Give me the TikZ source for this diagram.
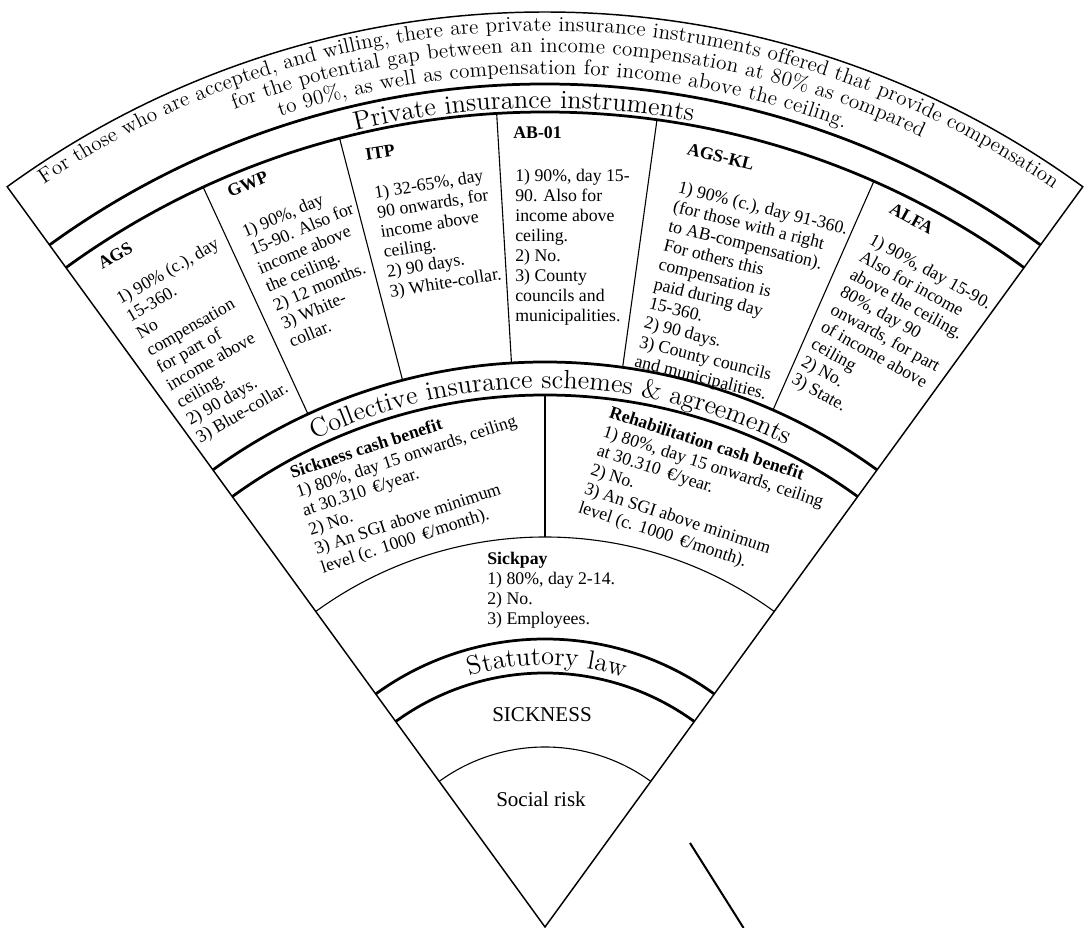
\documentclass[tikz,border=0pt]{standalone}
\usepackage{fontspec}
\setmainfont{Liberation Serif}
\usepackage{tikz}
\usetikzlibrary{decorations.text}

\newcommand{\bodysize}{\fontsize{9.7}{10.9}\selectfont}
\newcommand{\bandsize}[1]{\fontfamily{lmr}\fontsize{#1}{16}\selectfont}
\newcommand{\topsize}{\fontfamily{lmr}\fontsize{11.6}{13}\selectfont}
\newcommand{\risksize}{\fontsize{11.5}{13}\selectfont}

\begin{document}
\begin{tikzpicture}[x=0.0192cm, y=0.0192cm,
	edge/.style={line width=0.8pt},
	thinarc/.style={line width=0.6pt},
	thickarc/.style={line width=1.5pt},
	info/.style={inner sep=0pt, align=left, font=\bodysize, anchor=north west},
	instr/.style={inner sep=0pt, font=\bodysize\bfseries, anchor=base west},
	bandtext/.style={decorate, decoration={text along path, text align=fit to path, text={#1}}},
	bandtitle/.style={decorate, decoration={text along path, text align=center, text={#1}}}]
		\useasboundingbox (-545,-1) rectangle (542,927);
		
		% fan and arcs
		\draw[edge] (0,0) -- (126:915) arc[start angle=126, end angle=54, radius=915] -- cycle;
		\draw[thinarc] (126:180) arc[start angle=126, end angle=54, radius=180];
		\draw[thickarc] (126:254) arc[start angle=126, end angle=54, radius=254];
		\draw[thickarc] (126:288) arc[start angle=126, end angle=54, radius=288];
		\draw[thinarc] (126:390) arc[start angle=126, end angle=54, radius=390];
		\draw[thickarc] (126:532) arc[start angle=126, end angle=54, radius=532];
		\draw[thickarc] (126:565) arc[start angle=126, end angle=54, radius=565];
		\draw[thickarc] (126:815) arc[start angle=126, end angle=54, radius=815];
		\draw[thickarc] (126:843) arc[start angle=126, end angle=54, radius=843];
		
		% dividers
		\draw[thinarc] (90:390) -- (90:532);
		\foreach \a in {114.8, 104.6, 93.4, 82.1, 66.2}
			\draw[thinarc] (\a:565) -- (\a:815);
		
		\draw[line width=1.1pt] (145,84) -- (198.6,-1);
		
		% curved texts
		\path[bandtext={|\topsize|For those who are accepted, and willing, there are private insurance instruments offered that provide compensation}]
			(124:896) arc[start angle=124, end angle=55.6, radius=896];
		\path[bandtext={|\topsize|for the potential gap between an income compensation at 80{\%} as compared}]
			(110.8:875) arc[start angle=110.8, end angle=64.6, radius=875];
		\path[bandtext={|\topsize|to 90{\%}, as well as compensation for income above the ceiling.}]
			(108.1:853) arc[start angle=108.1, end angle=69.5, radius=853];
		\path[bandtitle={|\bandsize{14.4}|Private insurance instruments}]
			(111.5:819) arc[start angle=111.5, end angle=71.5, radius=819];
		\path[bandtitle={|\bandsize{14.4}|Collective insurance schemes {\&} agreements}]
			(119.35:539) arc[start angle=119.35, end angle=59.35, radius=539];
		\path[bandtitle={|\bandsize{14.5}|Statutory law}]
			(114.5:262) arc[start angle=114.5, end angle=64.5, radius=262];
		
		% private instruments
		\node[instr, rotate=30] (ags) at (-443,657) {AGS};
		\node[info, rotate=30] (agsinfo) at (-431,633)
		{1) 90\% (c.), day\\15-360.\\No\\compensation\\for part of\\income above\\ceiling.\\2) 90 days.\\3) Blue-collar.};
		
		\node[instr, rotate=23] (gwp) at (-315,729) {GWP};
		\node[info, rotate=23] (gwpinfo) at (-305,701)
		{1) 90\%, day\\15-90. Also for\\income above\\the ceiling.\\2) 12 months.\\3) White-\\collar.};
		
		\node[instr, rotate=9] (itp) at (-179,766) {ITP};
		\node[info, rotate=9] (itpinfo) at (-172,741)
		{1) 32-65\%, day\\90 onwards, for\\income above\\ceiling.\\2) 90 days.\\3) White-collar.};
		
		\node[instr] (ab01) at (-32,788) {AB-01};
		\node[info] (ab01info) at (-30,758)
		{1) 90\%, day 15-\\90. Also for\\income above\\ceiling.\\2) No.\\3) County\\councils and\\municipalities.};
		
		\node[instr, rotate=-14] (agskl) at (141,773) {AGS-KL};
		\node[info, rotate=-14] (agsklinfo) at (135,747)
		{1) 90\% (c.), day 91-360.\\(for those with a right\\to AB-compensation).\\For others this\\compensation is\\paid during day\\15-360.\\2) 90 days.\\3) County councils\\and municipalities.};
		
		\node[instr, rotate=-29] (alfa) at (343,715) {ALFA};
		\node[info, rotate=-29] (alfainfo) at (329,695)
		{1) 90\%, day 15-90.\\Also for income\\above the ceiling.\\80\%, day 90\\onwards, for part\\of income above\\ceiling\\2) No.\\3) State.};
		
		% collective schemes
		\node[info, rotate=18] (sickcash) at (-257,461)
		{\textbf{Sickness cash benefit}\\1) 80\%, day 15 onwards, ceiling\\at 30.310 \,€/year.\\2) No.\\3) An SGI above minimum\\level (c. 1000 \,€/month).};
		\node[info, rotate=-18] (rehabcash) at (67,522)
		{\textbf{Rehabilitation cash benefit}\\1) 80\%, day 15 onwards, ceiling\\at 30.310 \,€/year.\\2) No.\\3) An SGI above minimum\\level (c. 1000 \,€/month).};
		\node[info] (sickpay) at (-58,375)
		{\textbf{Sickpay}\\1) 80\%, day 2-14.\\2) No.\\3) Employees.};
		
		% statutory law and risk
		\node[font=\risksize, inner sep=0pt] (sickness) at (-3,212) {SICKNESS};
		\node[font=\risksize, inner sep=0pt] (socialrisk) at (-4,128) {Social risk};
\end{tikzpicture}
\end{document}
